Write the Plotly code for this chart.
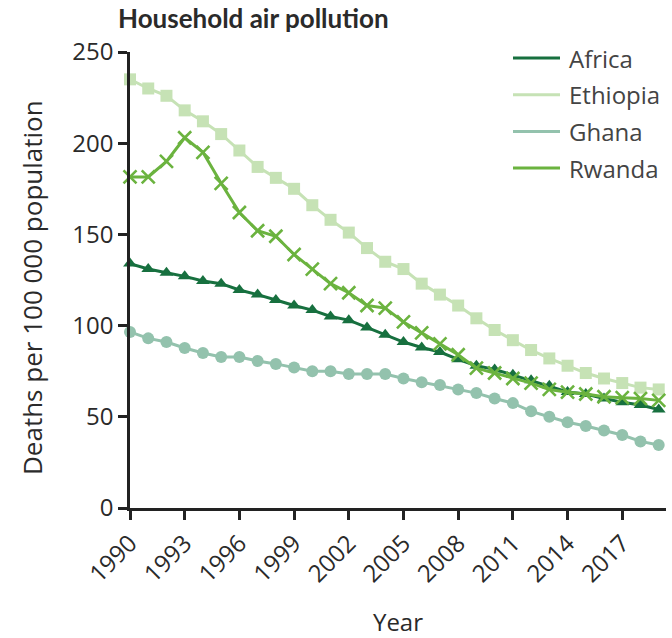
import plotly.graph_objects as go

years = list(range(1990, 2020))

africa = [134, 131, 129, 127, 124.5, 123, 119.5, 117, 114, 111, 108.5, 105, 103, 99,
          95, 91, 88, 85.5, 81.5, 78, 76, 73, 70, 67, 63.6, 62.5, 60, 58, 56.5, 54]
ethiopia = [235, 230, 226, 218, 212, 205, 196, 187, 181, 175, 166, 158, 151, 142.5,
            135, 131, 123, 117, 111, 104, 97.6, 92, 86.6, 82, 78, 74, 71, 68.5, 66, 65]
ghana = [96.5, 93, 91, 87.7, 85, 82.8, 82.8, 80.6, 79, 77, 75, 75, 73.5, 73.5,
         73.5, 71, 69, 67.4, 65, 63, 60, 57.5, 53, 50, 47, 45, 42.5, 40, 36.5, 34.5]
rwanda = [181.5, 181.5, 190, 203, 195, 178, 162, 152, 149, 139, 131, 123, 118, 111,
          109.6, 102, 96, 90, 84, 76.7, 74, 71, 68.5, 65, 63.5, 62.5, 61, 60.5, 60, 59]

series_names = ["Africa", "Ethiopia", "Ghana", "Rwanda"]
series_values = [africa, ethiopia, ghana, rwanda]
series_colors = ["#17703f", "#c6e2b5", "#93c2ad", "#6bb33f"]
series_symbols = ["triangle-up", "square", "circle", "x-thin"]

tick_years = list(range(1990, 2019, 3))
y_ticks = [0, 50, 100, 150, 200, 250]

FONT = "Open Sans"
TEXT = "#2a2a2a"

# plot-area geometry in pixels (used to place the key and y title in paper units)
W, H = 672, 638
ML, MR, MT, MB = 130, 6, 52, 130
PW, PH = W - ML - MR, H - MT - MB


def px_x(px):
    return (px - ML) / PW


def px_y(py):
    return (H - MB - py) / PH


fig = go.Figure()

# data traces, drawn light-to-dark so Rwanda sits on top of Africa
draw_order = [1, 2, 0, 3]
for i in draw_order:
    sym = series_symbols[i]
    marker = dict(symbol=sym, color=series_colors[i], size=12)
    if sym == "x-thin":
        marker = dict(symbol=sym, color=series_colors[i], size=13,
                      line=dict(color=series_colors[i], width=2.6))
    fig.add_trace(go.Scatter(
        x=years, y=series_values[i], mode="lines+markers",
        line=dict(color=series_colors[i], width=3),
        marker=marker, cliponaxis=False, showlegend=False,
        name=series_names[i],
    ))

# key: a short line sample and the series name, one row per series
key_top, key_step = 58, 36.7
for i, name in enumerate(series_names):
    yy = px_y(key_top + i * key_step)
    fig.add_shape(type="line", xref="paper", yref="paper",
                  x0=px_x(513), x1=px_x(560), y0=yy, y1=yy,
                  line=dict(color=series_colors[i], width=3))
    fig.add_annotation(xref="paper", yref="paper", x=px_x(567), y=yy,
                       xanchor="left", yanchor="middle", showarrow=False,
                       text=name, font=dict(family=FONT, size=24, color="#444444"))

# rotated y-axis title
fig.add_annotation(xref="paper", yref="paper", x=px_x(32), y=px_y(288),
                   xanchor="center", yanchor="middle", showarrow=False,
                   textangle=-90, text="Deaths per 100 000 population",
                   font=dict(family=FONT, size=26, color=TEXT))

fig.update_layout(
    width=W, height=H,
    margin=dict(l=ML, r=MR, t=MT, b=MB),
    plot_bgcolor="white", paper_bgcolor="white",
    showlegend=False,
    font=dict(family=FONT, size=24, color=TEXT),
    title=dict(text="<b>Household air pollution</b>", x=118 / W, xanchor="left",
               y=1 - 19 / H, yanchor="middle",
               font=dict(family="Lato", size=26, color=TEXT)),
    xaxis=dict(range=[1990, 2019.4], tickmode="array", tickvals=tick_years,
               ticktext=[str(y) for y in tick_years], tickangle=-45,
               showline=True, linecolor="#222222", linewidth=2.5,
               ticks="outside", ticklen=9, tickwidth=2.5, tickcolor="#222222",
               showgrid=False, zeroline=False, automargin=False,
               title=dict(text="Year", standoff=28,
                          font=dict(family=FONT, size=24, color=TEXT))),
    yaxis=dict(range=[0, 250], tickmode="array", tickvals=y_ticks,
               showline=True, linecolor="#222222", linewidth=2.5,
               ticks="outside", ticklen=9, tickwidth=2.5, tickcolor="#222222",
               showgrid=False, zeroline=False, automargin=False),
)

fig.write_html("out.html")
